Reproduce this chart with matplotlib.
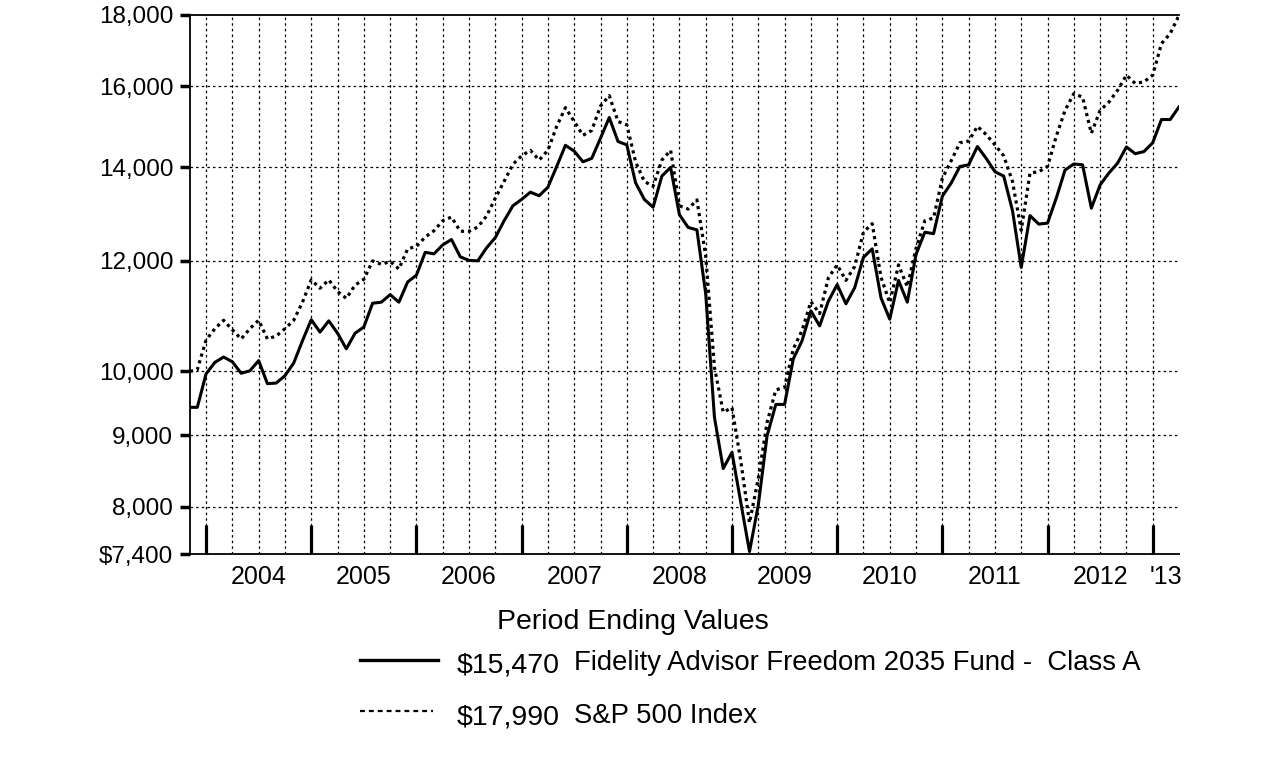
import matplotlib
matplotlib.use('Agg')
import matplotlib.pyplot as plt
import numpy as np
from matplotlib import font_manager
from matplotlib.lines import Line2D

# Arial lookalike
names = {f.name for f in font_manager.fontManager.ttflist}
body_font = 'Liberation Sans' if 'Liberation Sans' in names else 'DejaVu Sans'
plt.rcParams['font.family'] = body_font

# hypothetical $10,000 investment, month-end values Nov 2003 - Mar 2013
# first value is the start (Nov 6, 2003), then one value per month end
fund_values = [
    9425, 9425, 9960,
    10150, 10240, 10160, 9970, 10010, 10180, 9800, 9810, 9930, 10140, 10520, 10890,
    10670, 10870, 10650, 10380, 10650, 10760, 11190, 11210, 11350, 11210, 11590, 11720,
    12170, 12140, 12320, 12430, 12080, 12010, 12000, 12260, 12470, 12820, 13140, 13280,
    13440, 13360, 13550, 14020, 14520, 14380, 14130, 14210, 14690, 15200, 14610, 14530,
    13650, 13280, 13110, 13800, 14000, 12950, 12680, 12630, 11370, 9270, 8520, 8750,
    8060, 7430, 8020, 8990, 9470, 9470, 10210, 10520, 11050, 10780, 11230, 11540,
    11180, 11480, 12070, 12240, 11290, 10900, 11620, 11210, 12130, 12580, 12550, 13350,
    13640, 14020, 14060, 14490, 14210, 13900, 13800, 13040, 11870, 12930, 12750, 12770,
    13310, 13940, 14080, 14060, 13090, 13600, 13870, 14100, 14480, 14320, 14370, 14580,
    15150, 15150, 15470,
]
sp500_values = [
    10000, 10030, 10530,
    10730, 10880, 10710, 10550, 10730, 10880, 10550, 10600, 10730, 10880, 11210, 11630,
    11470, 11630, 11410, 11280, 11530, 11640, 12000, 11930, 11990, 11840, 12240, 12290,
    12480, 12610, 12820, 12900, 12600, 12600, 12690, 12920, 13310, 13680, 14070, 14270,
    14400, 14170, 14400, 14980, 15450, 15100, 14760, 14880, 15490, 15760, 15100, 15020,
    14130, 13680, 13570, 14170, 14400, 13140, 13070, 13270, 12100, 10070, 9350, 9420,
    8630, 7790, 8380, 9190, 9700, 9740, 10380, 10700, 11220, 11000, 11670, 11920,
    11620, 11890, 12580, 12760, 11680, 11200, 11920, 11500, 12250, 12820, 12880, 13750,
    14150, 14580, 14620, 14980, 14780, 14530, 14270, 13680, 12620, 13870, 13900, 14020,
    14740, 15380, 15810, 15720, 14810, 15380, 15590, 15900, 16300, 16080, 16120, 16300,
    17170, 17460, 17990,
]

y_ticks = [7400, 8000, 9000, 10000, 12000, 14000, 16000, 18000]
y_tick_labels = ['$7,400', '8,000', '9,000', '10,000', '12,000', '14,000', '16,000', '18,000']
year_labels = ['2004', '2005', '2006', '2007', '2008', '2009', '2010', '2011', '2012', "'13"]

fund_name = 'Fidelity Advisor Freedom 2035 Fund -  Class A'
index_name = 'S&P 500 Index'
fund_end = '$15,470'
index_end = '$17,990'

# time axis in fractional years
start = 2003 + (10 + 5 / 30) / 12
month_ends = 2003 + np.arange(11, 11 + len(fund_values) - 1) / 12
t = np.concatenate([[start], month_ends])

W, H = 1276, 761
fig = plt.figure(figsize=(W / 100, H / 100), dpi=100)
left, right, top, bottom = 190, 1179, 15, 554
ax = fig.add_axes([left / W, 1 - bottom / H, (right - left) / W, (bottom - top) / H])

ax.plot(t, fund_values, color='black', lw=2.2, solid_joinstyle='round', zorder=4)
ax.plot(t, sp500_values, color='black', lw=2.3, linestyle=(0, (1.0, 1.2)), zorder=3)

ax.set_yscale('log')
ax.set_ylim(7400, 18000)
ax.set_xlim(t[0], t[-1])
ax.yaxis.set_minor_locator(matplotlib.ticker.NullLocator())
ax.set_yticks(y_ticks)
ax.set_yticklabels(y_tick_labels)
ax.yaxis.set_minor_locator(matplotlib.ticker.NullLocator())
ax.tick_params(axis='y', which='major', direction='out', length=7, width=2.5,
               pad=5, labelsize=17.5)

# year boundaries as big inward ticks, labels centred in each year
years = np.arange(2004, 2014)
ax.set_xticks(years)
ax.set_xticklabels([])
label_pos = np.append(years[:-1] + 0.5, (2013 + t[-1]) / 2)
ax.set_xticks(label_pos, minor=True)
ax.set_xticklabels(year_labels, minor=True)
ax.tick_params(axis='x', which='major', direction='in', length=21, width=2.3)
ax.tick_params(axis='x', which='minor', length=0, pad=8, labelsize=18)

# dotted grid: quarterly verticals, horizontals at the value ticks
for q in np.arange(2004, 2013.01, 0.25):
    ax.axvline(q, color='black', lw=0.9, linestyle=(0, (2, 2.5)), zorder=1)
for v in y_ticks[1:-1]:
    ax.axhline(v, color='black', lw=0.9, linestyle=(0, (2, 2.5)), zorder=1)

ax.spines['right'].set_visible(False)
for s in ['left', 'top', 'bottom']:
    ax.spines[s].set_linewidth(1.3)

# legend block below the chart
fig.text(633 / W, 1 - 629 / H, 'Period Ending Values', ha='center', va='baseline', fontsize=20.5)
fig.add_artist(Line2D([360 / W, 438 / W], [1 - 660 / H, 1 - 660 / H], color='black', lw=2.4))
fig.add_artist(Line2D([360 / W, 433 / W], [1 - 711 / H, 1 - 711 / H], color='black', lw=1.6,
                      linestyle=(0, (2.2, 1.8))))
fig.text(457 / W, 1 - 672 / H, fund_end, ha='left', va='baseline', fontsize=20.5)
fig.text(457 / W, 1 - 725 / H, index_end, ha='left', va='baseline', fontsize=20.5)
fig.text(574 / W, 1 - 670 / H, fund_name, ha='left', va='baseline', fontsize=19.8)
fig.text(574 / W, 1 - 723 / H, index_name, ha='left', va='baseline', fontsize=19.8)

fig.savefig('out.png', dpi=100, facecolor='white')
